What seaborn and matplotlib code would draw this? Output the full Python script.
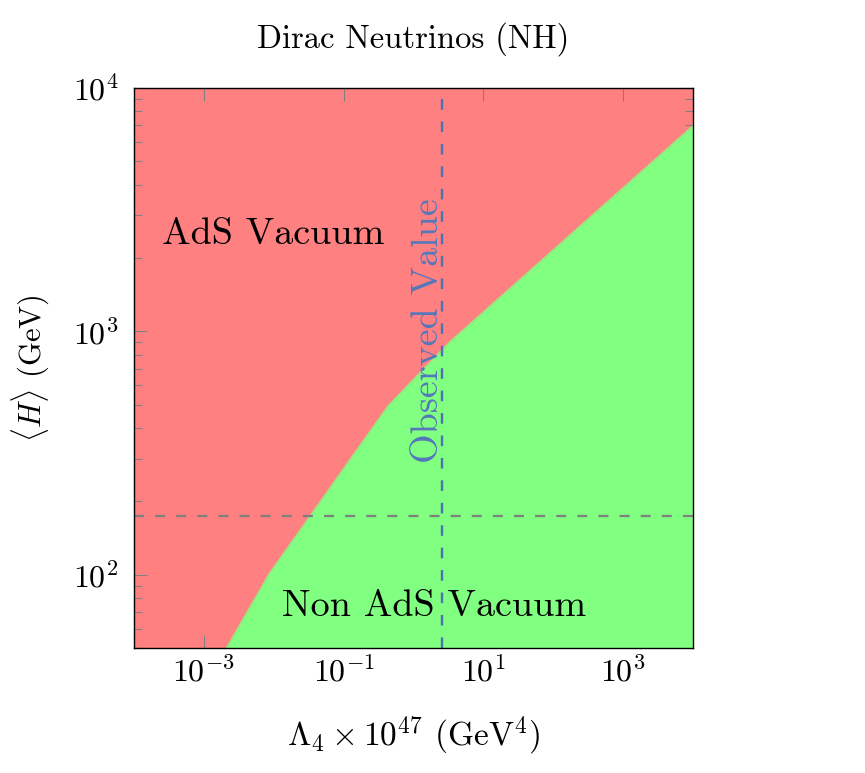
import numpy as np
import matplotlib
matplotlib.use("Agg")
import matplotlib.pyplot as plt
import matplotlib.ticker as mticker
import seaborn as sns

# boundary between AdS and non AdS vacua
bound_lambda = [2.1e-3, 8.6e-3, 0.43, 3.3, 1e4]
bound_h = [50, 101, 493, 904, 6980]

lambda_obs = 2.6     # observed cosmological constant (x 1e-47 GeV^4)
h_vev = 174          # GeV

x_ticks = [1e-3, 1e-1, 1e1, 1e3]
x_lim = (1e-4, 1e4)
y_lim = (50, 1e4)

red = "#ff8080"
green = "#80ff80"

sns.set_style("ticks")
plt.rcParams["font.family"] = ["cmr10", "DejaVu Serif"]
plt.rcParams["mathtext.fontset"] = "cm"
plt.rcParams["axes.unicode_minus"] = False
plt.rcParams["axes.formatter.use_mathtext"] = True
plt.rcParams["text.color"] = "black"
plt.rcParams["axes.labelcolor"] = "black"

fig = plt.figure(figsize=(8.65, 7.73), dpi=100)
ax = fig.add_axes([0.155, 0.1617, 0.646, 0.7248])
ax.set_facecolor(red)

# green region below the boundary
ax.fill_between(bound_lambda, y_lim[0], bound_h, color=green, linewidth=0, zorder=1)
sns.lineplot(x=bound_lambda, y=bound_h, color=green, linewidth=0.8, ax=ax, zorder=1)

ax.axvline(lambda_obs, color="#4c72b0", linestyle=(0, (4.5, 5)), linewidth=1.7, zorder=3)
ax.axhline(h_vev, color="#7f7f7f", linestyle=(0, (4.5, 5)), linewidth=1.6, zorder=3)

ax.set_xscale("log")
ax.set_yscale("log")
ax.set_xlim(*x_lim)
ax.set_ylim(*y_lim)

ax.xaxis.set_major_locator(mticker.FixedLocator(x_ticks))
ax.xaxis.set_minor_locator(mticker.NullLocator())
ax.xaxis.set_major_formatter(mticker.LogFormatterMathtext())
ax.yaxis.set_major_locator(mticker.LogLocator(base=10))
ax.yaxis.set_minor_locator(mticker.LogLocator(base=10, subs=np.arange(2, 10)))
ax.yaxis.set_minor_formatter(mticker.NullFormatter())
ax.yaxis.set_major_formatter(mticker.LogFormatterMathtext())

ax.tick_params(which="both", direction="in", top=True, right=True, color="#808080", width=0.8,
               labelsize=23, labelcolor="black")
ax.tick_params(which="major", length=9.5)
ax.tick_params(which="minor", length=6)
ax.tick_params(axis="x", pad=5)
ax.tick_params(axis="y", pad=11)
for s in ax.spines.values():
    s.set_linewidth(1.0)
    s.set_color("black")
    s.set_zorder(5)

ax.text(2.5e-4, 2500, "AdS Vacuum", fontsize=27.5, ha="left", va="center")
ax.text(1.96, 74, "Non AdS Vacuum", fontsize=27.5, ha="center", va="center")
ax.text(1.65, 1010, "Observed Value", fontsize=27.5, color="#5577bb", rotation=90, ha="center", va="center")

ax.set_title("Dirac Neutrinos (NH)", fontsize=23.5, pad=29)
ax.set_xlabel(r"$\Lambda_4 \times 10^{47}$ (GeV$^4$)", fontsize=24, labelpad=20)
ax.set_ylabel(r"$\langle H\rangle$ (GeV)", fontsize=22, labelpad=16)

fig.savefig("out.png", dpi=100)
